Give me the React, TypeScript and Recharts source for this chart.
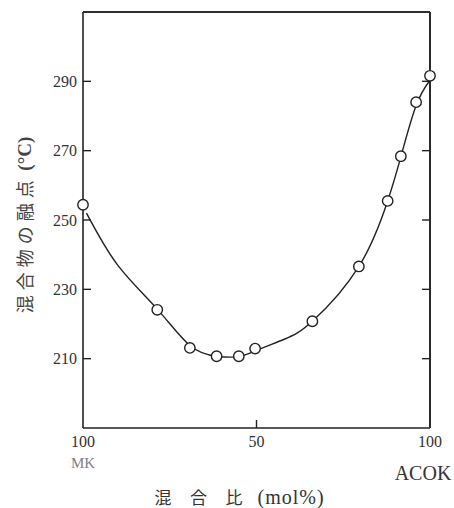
import React from 'react';
import { ComposedChart, Scatter, XAxis, YAxis, Label, ReferenceLine } from 'recharts';

const measuredRatio = [0, 21.4, 30.8, 38.5, 44.9, 49.6, 66.1, 79.5, 87.8, 91.6, 96.0, 100];
const measuredMelt = [254.4, 224.1, 213.1, 210.7, 210.7, 212.9, 220.8, 236.6, 255.5, 268.4, 284.0, 291.6];
const curveRatio = [1, 10, 21.4, 30.8, 38.5, 44.9, 49.6, 58, 66.1, 79.5, 87.8, 91.6, 96, 100];
const curveMelt = [252, 237, 224.3, 213.8, 210.7, 210.6, 212.2, 215.6, 220.8, 236.6, 255.5, 268.2, 283, 290.3];
const xTicks = [0, 50, 100];
const xTickLabels = ['100', '50', '100'];
const xEndLabels = ['MK', '', 'ACOK'];
const yTicks = [210, 230, 250, 270, 290];
const xDomain = [0, 100];
const yDomain = [190, 310];
const yTitleCjk = '混合物の融点';
const yTitleUnit = ' (°C)';
const xTitleChars = ['混', '合', '比'];
const xTitleUnit = '(mol%)';

const measured = measuredRatio.map((x, i) => ({ x, y: measuredMelt[i] }));
const curve = curveRatio.map((x, i) => ({ x, y: curveMelt[i] }));

const CHART_W = 454;
const CHART_H = 508;
const MARGIN = { top: 12, right: 24, bottom: 0, left: 0 };
const INK = '#222';
const SERIF = '"Liberation Serif", "DejaVu Serif", serif';
const CJK = '"Noto Sans CJK JP", sans-serif';
const TICK_LEN = 8;

const XTick = (props: any) => {
  const { x, y, payload, index } = props;
  const i = xTicks.indexOf(payload.value);
  const idx = i >= 0 ? i : index;
  const extra = xEndLabels[idx];
  const ay = y - 8;
  return (
    <g>
      <text x={x} y={ay + 19} textAnchor="middle" fontFamily={SERIF} fontSize={16} fill="#333">
        {xTickLabels[idx]}
      </text>
      {extra === 'MK' && (
        <text x={x} y={ay + 40} textAnchor="middle" fontFamily={SERIF} fontSize={15} fill="#808080">
          MK
        </text>
      )}
      {extra === 'ACOK' && (
        <text x={x - 7} y={ay + 52} textAnchor="middle" fontFamily={SERIF} fontSize={20} fill="#333">
          ACOK
        </text>
      )}
    </g>
  );
};

const LeftTick = (props: any) => {
  const { x, y, payload } = props;
  return (
    <text x={x + 2} y={y} dy="0.35em" textAnchor="end" fontFamily={SERIF} fontSize={16} fill="#333">
      {payload.value}
    </text>
  );
};

const NoShape = () => <g />;

const Dot = (props: any) => {
  const { cx, cy } = props;
  return <circle cx={cx} cy={cy} r={5.2} fill="#fff" stroke={INK} strokeWidth={1.4} />;
};

// Frame (top & right sides) and inward tick marks, drawn from the y-axis viewBox
const FrameAndTitle = (p: any) => {
  const vb = p.viewBox;
  const left = vb.x + vb.width;
  const right = CHART_W - MARGIN.right;
  const top = vb.y;
  const bottom = vb.y + vb.height;
  const yPix = (v: number) => top + ((yDomain[1] - v) / (yDomain[1] - yDomain[0])) * (bottom - top);
  const tx = vb.x + 24;
  const ty = vb.y + vb.height / 2 + 5;
  return (
    <g>
      <line x1={left} y1={top} x2={right} y2={top} stroke={INK} strokeWidth={1.6} />
      <line x1={right} y1={top} x2={right} y2={bottom} stroke={INK} strokeWidth={1.6} />
      {yTicks.map((v) => (
        <g key={v}>
          <line x1={left} y1={yPix(v)} x2={left + TICK_LEN} y2={yPix(v)} stroke={INK} strokeWidth={1.4} />
          <line x1={right} y1={yPix(v)} x2={right - TICK_LEN} y2={yPix(v)} stroke={INK} strokeWidth={1.4} />
        </g>
      ))}
      <text
        x={tx}
        y={ty}
        textAnchor="middle"
        dominantBaseline="central"
        transform={`rotate(-90, ${tx}, ${ty})`}
        fill="#444"
      >
        <tspan fontFamily={CJK} fontSize={18} letterSpacing={5}>{yTitleCjk}</tspan>
        <tspan fontFamily={SERIF} fontSize={19} fontWeight="bold">{yTitleUnit}</tspan>
      </text>
    </g>
  );
};

const XTitle = (p: any) => {
  const vb = p.viewBox;
  const cx = vb.x + vb.width / 2;
  const y = vb.y + 76;
  const midX = vb.x + ((50 - xDomain[0]) / (xDomain[1] - xDomain[0])) * vb.width;
  return (
    <g>
      <line x1={midX} y1={vb.y} x2={midX} y2={vb.y - TICK_LEN} stroke={INK} strokeWidth={1.4} />
      {xTitleChars.map((c, k) => (
        <text key={k} x={cx - 93.5 + k * 35.5} y={y} textAnchor="middle" fontFamily={CJK} fontSize={17} fill="#333">
          {c}
        </text>
      ))}
      <text x={cx + 1} y={y} textAnchor="start" fontFamily={SERIF} fontSize={20} letterSpacing={1} fill="#333">
        {xTitleUnit}
      </text>
    </g>
  );
};

export default function App() {
  return (
    <div style={{ position: 'absolute', left: 0, top: 0, background: '#fff' }}>
      <ComposedChart width={CHART_W} height={CHART_H} margin={MARGIN}>
        <XAxis
          xAxisId="b"
          type="number"
          dataKey="x"
          domain={xDomain}
          ticks={xTicks}
          height={80}
          axisLine={{ stroke: INK, strokeWidth: 1.6 }}
          tickLine={{ stroke: 'transparent' }}
          tick={<XTick />}
        >
          <Label content={<XTitle />} />
        </XAxis>
        <YAxis
          yAxisId="l"
          type="number"
          dataKey="y"
          domain={yDomain}
          ticks={yTicks}
          width={83}
          axisLine={{ stroke: INK, strokeWidth: 1.6 }}
          tickLine={{ stroke: 'transparent' }}
          tick={<LeftTick />}
        >
          <Label content={<FrameAndTitle />} />
        </YAxis>
        <ReferenceLine xAxisId="b" yAxisId="l" y={yDomain[1]} stroke={INK} strokeWidth={1.6} ifOverflow="visible" />
        <ReferenceLine xAxisId="b" yAxisId="l" x={xDomain[1]} stroke={INK} strokeWidth={1.6} ifOverflow="visible" />
        <Scatter
          xAxisId="b"
          yAxisId="l"
          data={curve}
          dataKey="y"
          line={{ stroke: INK, strokeWidth: 1.4 }}
          lineType="joint"
          lineJointType="natural"
          shape={<NoShape />}
          isAnimationActive={false}
        />
        <Scatter
          xAxisId="b"
          yAxisId="l"
          data={measured}
          dataKey="y"
          shape={<Dot />}
          isAnimationActive={false}
        />
      </ComposedChart>
    </div>
  );
}
